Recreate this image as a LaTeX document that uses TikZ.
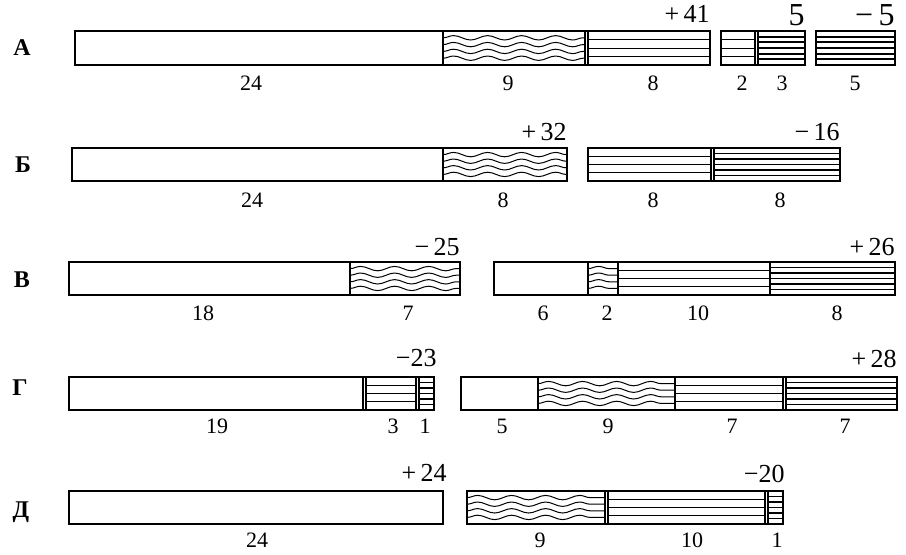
\documentclass[tikz,border=0pt]{standalone}
\usepackage{fontspec}
\setmainfont{Liberation Serif}
\usepackage{tikz}
\usetikzlibrary{calc, decorations.pathmorphing}

\begin{document}
\begin{tikzpicture}[
    x=0.5pt, y=-0.5pt,
    seg/.style={draw, line width=0.7pt, fill=white},
    frame/.style={draw, line width=1.3pt},
    blank/.style={seg},
    wavefill/.style={seg, path picture={
        \foreach \f in {0.2,0.4,0.6,0.8}
          \draw[line width=0.5pt, decorate, decoration={snake, segment length=17pt, amplitude=1.1pt}]
            ($(path picture bounding box.south west)!\f!(path picture bounding box.north west)$) --
            ($(path picture bounding box.south east)!\f!(path picture bounding box.north east)$);
    }},
    lightfill/.style={seg, path picture={
        \foreach \f in {0.25,0.5,0.75}
          \draw[line width=0.5pt]
            ($(path picture bounding box.south west)!\f!(path picture bounding box.north west)$) --
            ($(path picture bounding box.south east)!\f!(path picture bounding box.north east)$);
    }},
    densefill/.style={seg, path picture={
        \foreach \f in {0.167,0.333,0.5,0.667,0.833}
          \draw[line width=0.9pt]
            ($(path picture bounding box.south west)!\f!(path picture bounding box.north west)$) --
            ($(path picture bounding box.south east)!\f!(path picture bounding box.north east)$);
    }},
    rowlabel/.style={font=\bfseries\fontsize{12}{14}\selectfont},
    amount/.style={anchor=base east, inner sep=0pt, font=\fontsize{13}{15}\selectfont},
    bigamount/.style={anchor=base east, inner sep=0pt, font=\fontsize{16}{18}\selectfont},
    share/.style={anchor=base, inner sep=0pt, font=\fontsize{11}{13}\selectfont}
]
\useasboundingbox (0,0) rectangle (906,554);

% row A
\node[rowlabel] (labA) at (22,48) {А};
\draw[blank] (75,31) rectangle (443,65);
\draw[wavefill] (443,31) rectangle (585,65);
\draw[lightfill] (588,31) rectangle (710,65);
\draw[frame] (75,31) rectangle (710,65);
\draw[lightfill] (721,31) rectangle (755,65);
\draw[densefill] (758,31) rectangle (805,65);
\draw[frame] (721,31) rectangle (805,65);
\draw[densefill] (816,31) rectangle (895,65);
\draw[frame] (816,31) rectangle (895,65);
\node[amount] (sumA1) at (710,22) {+\,41};
\node[bigamount] (sumA2) at (805,25) {5};
\node[bigamount] (sumA3) at (895,25) {−\,5};
\node[share] (a1) at (251,90) {24};
\node[share] (a2) at (508,90) {9};
\node[share] (a3) at (653,90) {8};
\node[share] (a4) at (742,90) {2};
\node[share] (a5) at (782,90) {3};
\node[share] (a6) at (855,90) {5};

% row B
\node[rowlabel] (labB) at (23,165) {Б};
\draw[blank] (72,148) rectangle (443,181);
\draw[wavefill] (443,148) rectangle (567,181);
\draw[frame] (72,148) rectangle (567,181);
\draw[lightfill] (588,148) rectangle (711,181);
\draw[densefill] (714,148) rectangle (840,181);
\draw[frame] (588,148) rectangle (840,181);
\node[amount] (sumB1) at (567,140) {+\,32};
\node[amount] (sumB2) at (840,140) {−\,16};
\node[share] (b1) at (252,207) {24};
\node[share] (b2) at (503,207) {8};
\node[share] (b3) at (653,207) {8};
\node[share] (b4) at (780,207) {8};

% row V
\node[rowlabel] (labV) at (22,280) {В};
\draw[blank] (69,262) rectangle (350,295);
\draw[wavefill] (350,262) rectangle (460,295);
\draw[frame] (69,262) rectangle (460,295);
\draw[blank] (494,262) rectangle (588,295);
\draw[wavefill] (588,262) rectangle (618,295);
\draw[lightfill] (618,262) rectangle (770,295);
\draw[densefill] (770,262) rectangle (895,295);
\draw[frame] (494,262) rectangle (895,295);
\node[amount] (sumV1) at (460,255) {−\,25};
\node[amount] (sumV2) at (895,255) {+\,26};
\node[share] (v1) at (203,320) {18};
\node[share] (v2) at (408,320) {7};
\node[share] (v3) at (543,320) {6};
\node[share] (v4) at (607,320) {2};
\node[share] (v5) at (698,320) {10};
\node[share] (v6) at (837,320) {8};

% row G
\node[rowlabel] (labG) at (20,388) {Г};
\draw[blank] (69,377) rectangle (363,410);
\draw[lightfill] (366,377) rectangle (416,410);
\draw[densefill] (419,377) rectangle (434,410);
\draw[frame] (69,377) rectangle (434,410);
\draw[blank] (461,377) rectangle (538,410);
\draw[wavefill] (538,377) rectangle (675,410);
\draw[lightfill] (675,377) rectangle (783,410);
\draw[densefill] (786,377) rectangle (897,410);
\draw[frame] (461,377) rectangle (897,410);
\node[amount] (sumG1) at (437,366) {−23};
\node[amount] (sumG2) at (897,367) {+\,28};
\node[share] (g1) at (217,433) {19};
\node[share] (g2) at (393,433) {3};
\node[share] (g3) at (425,433) {1};
\node[share] (g4) at (502,433) {5};
\node[share] (g5) at (608,433) {9};
\node[share] (g6) at (732,433) {7};
\node[share] (g7) at (845,433) {7};

% row D
\node[rowlabel] (labD) at (21,512) {Д};
\draw[blank] (69,491) rectangle (443,524);
\draw[frame] (69,491) rectangle (443,524);
\draw[wavefill] (467,491) rectangle (605,524);
\draw[lightfill] (608,491) rectangle (765,524);
\draw[densefill] (768,491) rectangle (783,524);
\draw[frame] (467,491) rectangle (783,524);
\node[amount] (sumD1) at (447,481) {+\,24};
\node[amount] (sumD2) at (785,482) {−20};
\node[share] (d1) at (257,547) {24};
\node[share] (d2) at (540,547) {9};
\node[share] (d3) at (692,547) {10};
\node[share] (d4) at (777,547) {1};
\end{tikzpicture}
\end{document}
